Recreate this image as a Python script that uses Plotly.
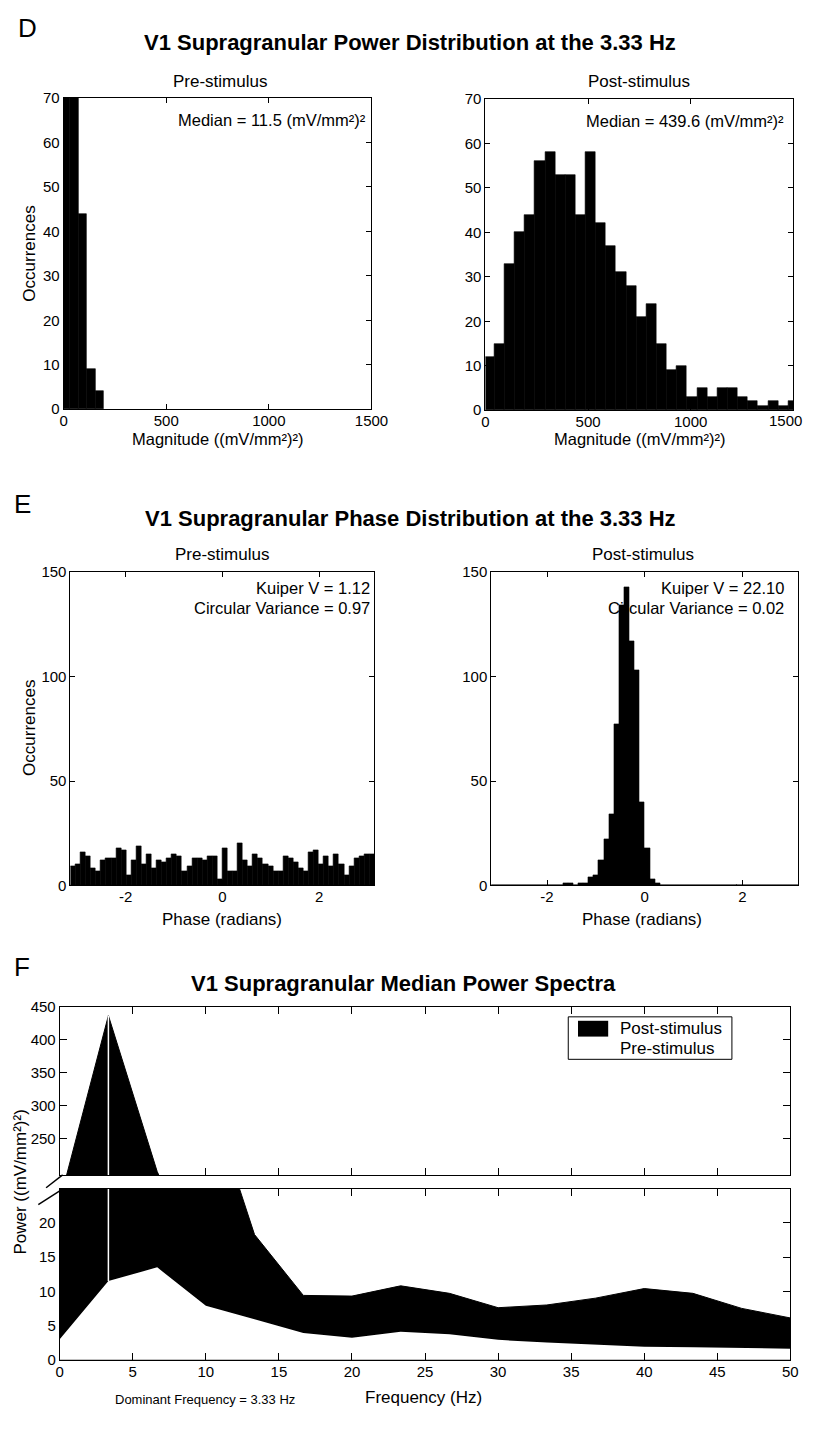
import plotly.graph_objects as go

# The page keeps the browser's default 8 px body margin, so the figure is
# 16 px smaller than the window and every reference pixel is shifted by 8.
PAGE_W, PAGE_H = 829, 1430
OFF = 8
W, H = PAGE_W - 2 * OFF, PAGE_H - 2 * OFF
FONT = "Liberation Sans, Arial, Helvetica, sans-serif"


def px(x):
    return (x - OFF) / W


def py(y):
    return 1 - (y - OFF) / H


# ---------------- data ----------------
mag_pre_centers = [8, 50, 92, 134, 176]
mag_pre_counts = [560, 90, 44, 9, 4]
mag_pre_binwidth = 42

mag_post_centers = [18.3, 67.7, 117.1, 166.5, 215.9, 265.3, 314.7, 364.1, 413.5, 462.9,
                    512.3, 561.7, 611.1, 660.5, 709.9, 759.3, 808.7, 858.1, 907.5, 956.9,
                    1006.3, 1055.7, 1105.1, 1154.5, 1203.9, 1253.3, 1302.7, 1352.1, 1401.5,
                    1450.9, 1500.3]
mag_post_counts = [12, 15, 33, 40, 44, 56, 58, 53, 53, 44, 58, 42, 37, 31, 28, 21, 24, 15, 9, 10,
                   3, 5, 3, 5, 5, 3, 2, 1, 2, 1, 2]
mag_post_binwidth = 49.4
mag_ticks = [0, 500, 1000, 1500]

phase_centers = [-3.089, -2.985, -2.880, -2.775, -2.670, -2.566, -2.461, -2.356, -2.252, -2.147,
                 -2.042, -1.937, -1.833, -1.728, -1.623, -1.518, -1.414, -1.309, -1.204, -1.100,
                 -0.995, -0.890, -0.785, -0.681, -0.576, -0.471, -0.367, -0.262, -0.157, -0.052,
                 0.052, 0.157, 0.262, 0.367, 0.471, 0.576, 0.681, 0.785, 0.890, 0.995,
                 1.100, 1.204, 1.309, 1.414, 1.518, 1.623, 1.728, 1.833, 1.937, 2.042,
                 2.147, 2.252, 2.356, 2.461, 2.566, 2.670, 2.775, 2.880, 2.985, 3.089]
phase_pre_counts = [9, 10, 16, 14, 8, 7, 12, 13, 13, 18, 17, 5, 12, 19, 10, 15, 8, 12, 11, 13,
                    15, 14, 7, 9, 13, 13, 12, 14, 14, 3, 18, 7, 7, 20, 12, 9, 15, 13, 10, 9,
                    7, 7, 14, 13, 11, 8, 7, 16, 17, 10, 14, 9, 15, 10, 5, 9, 13, 14, 15, 15]
phase_post_counts = [0, 0, 0, 0, 0, 0, 0, 0, 0, 0, 0, 0, 0, 0, 1, 1, 0, 1, 1, 4,
                     5, 12, 22, 34, 77, 134, 143, 117, 103, 40, 18, 3, 1, 0, 0, 0, 0, 0, 0, 0,
                     0, 0, 0, 0, 0, 0, 0, 0, 0, 0, 0, 0, 0, 0, 0, 0, 0, 0, 0, 0]
phase_binwidth = 0.1047
phase_ticks = [-2, 0, 2]
phase_ticktext = ["-2", "0", "2"]

freq = [0, 3.33, 6.67, 10, 13.33, 16.67, 20, 23.33, 26.67, 30, 33.33, 36.67, 40, 43.33, 46.67, 50]
power_post = [155, 437, 200, 40, 18.3, 9.4, 9.3, 10.8, 9.7, 7.6, 8.0, 9.0, 10.4, 9.7, 7.5, 6.1]
power_pre = [3.0, 11.5, 13.5, 7.9, 5.9, 3.9, 3.2, 4.1, 3.7, 2.9, 2.5, 2.2, 1.9, 1.8, 1.7, 1.6]
dominant_freq = 3.33

# ---------------- figure ----------------
fig = go.Figure()

bar_style = dict(marker=dict(color="black", line=dict(color="black", width=0.6)), showlegend=False)

fig.add_trace(go.Bar(x=mag_pre_centers, y=mag_pre_counts, width=mag_pre_binwidth,
                     xaxis="x", yaxis="y", **bar_style))
fig.add_trace(go.Bar(x=mag_post_centers, y=mag_post_counts, width=mag_post_binwidth,
                     xaxis="x2", yaxis="y2", **bar_style))
fig.add_trace(go.Bar(x=phase_centers, y=phase_pre_counts, width=phase_binwidth,
                     xaxis="x3", yaxis="y3", **bar_style))
fig.add_trace(go.Bar(x=phase_centers, y=phase_post_counts, width=phase_binwidth,
                     xaxis="x4", yaxis="y4", **bar_style))

for xa, ya in [("x5", "y5"), ("x6", "y6")]:
    fig.add_trace(go.Scatter(x=freq, y=power_post, mode="lines", fill="tozeroy",
                             fillcolor="black", line=dict(color="black", width=1),
                             xaxis=xa, yaxis=ya, showlegend=False))
    fig.add_trace(go.Scatter(x=freq, y=power_pre, mode="lines", fill="tozeroy",
                             fillcolor="white", line=dict(color="white", width=0),
                             xaxis=xa, yaxis=ya, showlegend=False))
    fig.add_trace(go.Scatter(x=[dominant_freq, dominant_freq], y=[power_pre[1], power_post[1]],
                             mode="lines", line=dict(color="white", width=1.5),
                             xaxis=xa, yaxis=ya, showlegend=False))


def ax(domain, rng, **kw):
    d = dict(domain=domain, range=rng, showline=True, linecolor="black", linewidth=1,
             mirror="ticks", ticks="inside", ticklen=5, tickcolor="black", tickwidth=1,
             showgrid=False, zeroline=False, fixedrange=True,
             tickfont=dict(family=FONT, size=15, color="black"))
    d.update(kw)
    return d


layout = dict(
    width=W, height=H, margin=dict(l=0, r=0, t=0, b=0),
    paper_bgcolor="white", plot_bgcolor="white", bargap=0,
    font=dict(family=FONT, color="black"),
    showlegend=False,
)

XS = -2
layout["xaxis"] = ax([px(61), px(377)], [0, 1500], anchor="y", tickvals=mag_ticks,
                     ticklabelstandoff=XS)
layout["yaxis"] = ax([py(405), py(90)], [0, 70], anchor="x", dtick=10)
# last label of the right panel would be cut by the page edge: drawn as an annotation instead
layout["xaxis2"] = ax([px(494), px(810)], [0, 1500], anchor="y2", tickvals=mag_ticks,
                      ticktext=[str(v) for v in mag_ticks[:-1]] + [""], ticklabelstandoff=XS)
layout["yaxis2"] = ax([py(406), py(91)], [0, 70], anchor="x2", dtick=10)
layout["xaxis3"] = ax([px(68), px(380)], [-3.14159, 3.14159], anchor="y3", tickvals=phase_ticks,
                      ticktext=phase_ticktext, ticklabelstandoff=XS)
layout["yaxis3"] = ax([py(887), py(570)], [0, 150], anchor="x3", tickvals=[0, 50, 100, 150])
layout["xaxis4"] = ax([px(500), px(815)], [-3.14159, 3.14159], anchor="y4", tickvals=phase_ticks,
                      ticktext=phase_ticktext, ticklabelstandoff=XS)
layout["yaxis4"] = ax([py(887), py(570)], [0, 150], anchor="x4", tickvals=[0, 50, 100, 150])
layout["xaxis5"] = ax([px(57), px(807)], [0, 50], anchor="y5", dtick=5, showticklabels=False, ticklen=7)
layout["yaxis5"] = ax([py(1180), py(1010)], [195, 450], anchor="x5",
                      tickvals=[250, 300, 350, 400, 450], ticklen=7)
layout["xaxis6"] = ax([px(57), px(807)], [0, 50], anchor="y6", dtick=5, ticklen=7,
                      ticklabelstandoff=XS)
layout["yaxis6"] = ax([py(1367), py(1194)], [0, 25], anchor="x6",
                      tickvals=[0, 5, 10, 15, 20], ticklen=7)

fig.update_layout(**layout)

ann = []


def text(x, y, s, size=17, xanchor="center", bold=False, angle=0):
    ann.append(dict(x=px(x), y=py(y), xref="paper", yref="paper", text=("<b>%s</b>" % s) if bold else s,
                    showarrow=False, xanchor=xanchor, yanchor="middle", textangle=angle,
                    font=dict(family=FONT, size=size, color="black")))


text(12, 19, "D", size=26, xanchor="left")
text(8, 501, "E", size=26, xanchor="left")
text(8, 970, "F", size=26, xanchor="left")

text(417, 34, "V1 Supragranular Power Distribution at the 3.33 Hz", size=22, bold=True)
text(417, 516, "V1 Supragranular Phase Distribution at the 3.33 Hz", size=22, bold=True)
text(410, 986, "V1 Supragranular Median Power Spectra", size=22, bold=True)

text(222, 73, "Pre-stimulus")
text(652, 73, "Post-stimulus")
text(224, 552, "Pre-stimulus")
text(656, 552, "Post-stimulus")

text(373, 112, "Median = 11.5 (mV/mm²)²", size=16.5, xanchor="right")
text(803, 113, "Median = 439.6 (mV/mm²)²", size=16.5, xanchor="right")
text(378, 586, "Kuiper V = 1.12", size=16.5, xanchor="right")
text(378, 606, "Circular Variance = 0.97", size=16.5, xanchor="right")
text(803, 586, "Kuiper V = 22.10", size=16.5, xanchor="right")
text(803, 606, "Circular Variance = 0.02", size=16.5, xanchor="right")

text(821, 416, str(mag_ticks[-1]), size=15, xanchor="right")

text(219, 435, "Magnitude ((mV/mm²)²)", size=16.5)
text(652, 435, "Magnitude ((mV/mm²)²)", size=16.5)
text(26, 248, "Occurrences", angle=-90)
text(26, 728, "Occurrences", angle=-90)
text(224, 921, "Phase (radians)")
text(655, 921, "Phase (radians)")
text(430, 1405, "Frequency (Hz)")
text(206, 1407, "Dominant Frequency = 3.33 Hz", size=13)
text(17, 1187, "Power ((mV/mm²)²)", size=17, angle=-90)

text(630, 1032, "Post-stimulus", xanchor="left")
text(630, 1052, "Pre-stimulus", xanchor="left")

fig.update_layout(annotations=ann)

shapes = [
    dict(type="rect", xref="paper", yref="paper", x0=px(579), x1=px(747), y0=py(1063), y1=py(1020),
         line=dict(color="black", width=1), fillcolor="rgba(0,0,0,0)"),
    dict(type="rect", xref="paper", yref="paper", x0=px(589), x1=px(620), y0=py(1040), y1=py(1024),
         line=dict(color="black", width=0), fillcolor="black"),
    dict(type="line", xref="paper", yref="paper", x0=px(43), y0=py(1193), x1=px(60), y1=py(1180),
         line=dict(color="black", width=1.5)),
    dict(type="line", xref="paper", yref="paper", x0=px(35), y0=py(1210), x1=px(59), y1=py(1195),
         line=dict(color="black", width=1.5)),
]
fig.update_layout(shapes=shapes)

fig.write_html("out.html", config={"displayModeBar": False})
